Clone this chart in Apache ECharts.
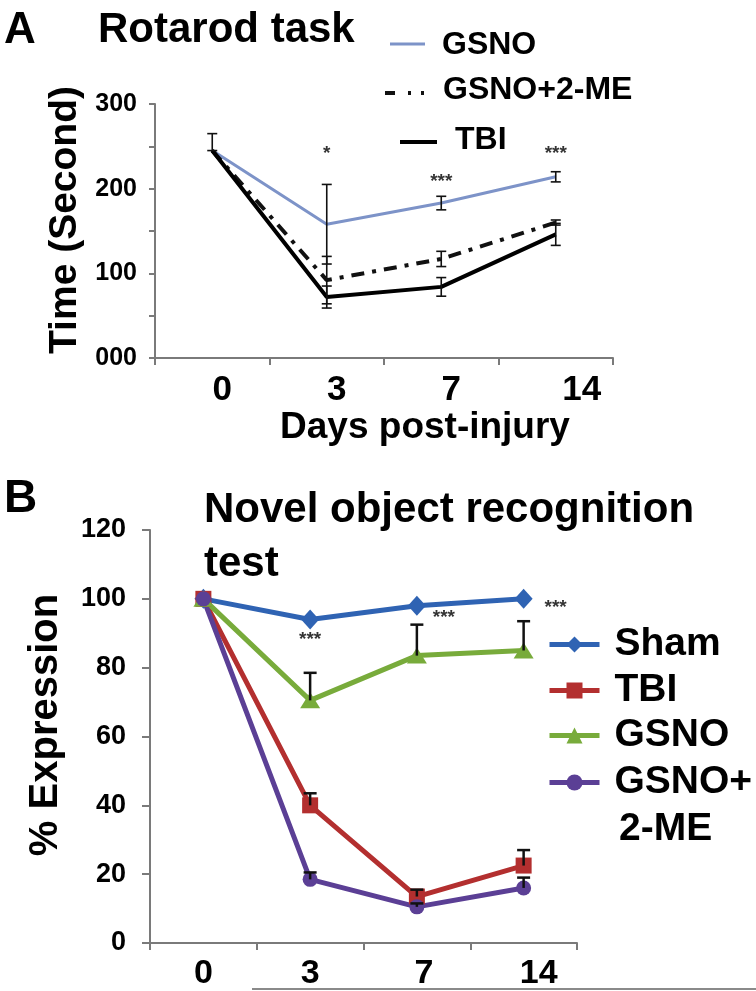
<!DOCTYPE html>
<html><head><meta charset="utf-8">
<script src="https://cdn.jsdelivr.net/npm/echarts@6.0.0/dist/echarts.min.js"></script>
<style>html,body{margin:0;padding:0;background:#fff}#c{width:756px;height:991px}</style>
</head><body><div id="c"></div>
<script>
// ---------- Panel A: Rotarod task ----------
const daysA = ['0', '3', '7', '14'];
const gsnoA = [245, 158, 183, 214];
const gsno2meA = [245, 92, 117, 160];
const tbiA = [245, 72, 84, 146];
const gsnoErrUpA = [20, 47, 8, 6];
const gsnoErrDnA = [0, 47, 8, 6];
const gsno2meErrA = [0, 28, 9, 3];
const tbiErrA = [0, 13, 11, 13];
const sigA = ['', '*', '***', '***'];
const sigYA = [0, 241, 208, 241];
const yTicksA = [0, 100, 200, 300];

// ---------- Panel B: Novel object recognition ----------
const daysB = ['0', '3', '7', '14'];
const shamB = [100, 94, 98, 100];
const tbiB = [100, 40, 13.5, 22.5];
const gsnoB = [100, 70.5, 83.5, 85];
const gsno2meB = [100, 18.5, 10.5, 16];
const tbiErrB = [0, 3.5, 2, 4.5];
const gsnoErrB = [0, 8, 9, 8.5];
const gsno2meErrB = [0, 2, 1, 3];
const sigB = ['', '***', '***', '***'];
const sigYB = [0, 88, 94.5, 97.5];

const FONT = '"Liberation Sans", Arial, Helvetica, sans-serif';
const AXIS_COLOR = '#7a7a7a';
const C = { sham: '#2f63b3', tbi: '#b32f2f', gsno: '#78ab3b', gsno2me: '#5b3f95', gsnoA: '#7d93c8' };

function errItems(vals, up, dn) {
  const out = [];
  vals.forEach((v, i) => { if (up[i] || dn[i]) out.push([i, v - dn[i], v + up[i]]); });
  return out;
}
function errorRenderer(twoSided, capHalf, lw) {
  return function (params, api) {
    const x = api.value(0);
    const lo = api.coord([x, api.value(1)]);
    const hi = api.coord([x, api.value(2)]);
    const st = { stroke: '#111', lineWidth: lw };
    const ch = [
      { type: 'line', shape: { x1: lo[0], y1: lo[1], x2: hi[0], y2: hi[1] }, style: st },
      { type: 'line', shape: { x1: hi[0] - capHalf, y1: hi[1], x2: hi[0] + capHalf, y2: hi[1] }, style: st }
    ];
    if (twoSided) ch.push({ type: 'line', shape: { x1: lo[0] - capHalf, y1: lo[1], x2: lo[0] + capHalf, y2: lo[1] }, style: st });
    return { type: 'group', children: ch };
  };
}
function sigItems(sig, ys, offsets) {
  const out = [];
  sig.forEach((s, i) => {
    if (s) out.push({ value: [i, ys[i]], label: { formatter: s, offset: offsets ? offsets[i] : [0, 0] } });
  });
  return out;
}

const chart = echarts.init(document.getElementById('c'));
const bold = { fontFamily: FONT, fontWeight: 'bold', color: '#000' };

const option = {
  animation: false,
  backgroundColor: '#fff',
  grid: [
    { left: 155, top: 104, width: 458, height: 254 },
    { left: 150, top: 530, width: 427, height: 413 }
  ],
  xAxis: [
    {
      gridIndex: 0, type: 'category', data: daysA, boundaryGap: true,
      axisLine: { lineStyle: { color: AXIS_COLOR, width: 2 } },
      axisTick: { show: true, length: 7, lineStyle: { color: AXIS_COLOR, width: 2 } },
      axisLabel: {
        ...bold, fontSize: 35, margin: 15, interval: 0, hideOverlap: false,
        formatter: v => v === '14' ? '{w|' + v + '}' : '{n|' + v + '}',
        rich: {
          n: { ...bold, fontSize: 35, padding: [0, 0, 0, 20] },
          w: { ...bold, fontSize: 35, padding: [0, 0, 0, 52] }
        }
      },
      name: 'Days post-injury', nameLocation: 'middle', nameGap: 40,
      nameTextStyle: { ...bold, fontSize: 37, padding: [0, 0, 0, 82] }
    },
    {
      gridIndex: 1, type: 'category', data: daysB, boundaryGap: true,
      axisLine: { lineStyle: { color: AXIS_COLOR, width: 2 } },
      axisTick: { show: true, length: 7, lineStyle: { color: AXIS_COLOR, width: 2 } },
      axisLabel: {
        ...bold, fontSize: 34, margin: 14, interval: 0, hideOverlap: false,
        formatter: v => v === '14' ? '{w|' + v + '}' : (v === '7' ? '{s|' + v + '}' : '{n|' + v + '}'),
        rich: {
          n: { ...bold, fontSize: 34 },
          s: { ...bold, fontSize: 34, padding: [0, 0, 0, 14] },
          w: { ...bold, fontSize: 34, padding: [0, 0, 0, 30] }
        }
      }
    }
  ],
  yAxis: [
    {
      gridIndex: 0, type: 'value', min: 0, max: 300, interval: 50,
      splitLine: { show: false },
      axisLine: { show: true, lineStyle: { color: AXIS_COLOR, width: 2 } },
      axisTick: { show: true, length: 6, lineStyle: { color: AXIS_COLOR, width: 2 } },
      axisLabel: {
        ...bold, fontSize: 25, margin: 18,
        formatter: v => yTicksA.indexOf(v) >= 0 ? String(v).padStart(3, '0') : ''
      },
      name: 'Time (Second)', nameLocation: 'middle', nameRotate: 90, nameGap: 68,
      nameTextStyle: { ...bold, fontSize: 39, padding: [0, 0, 0, 22] }
    },
    {
      gridIndex: 1, type: 'value', min: 0, max: 120, interval: 20,
      splitLine: { show: false },
      axisLine: { show: true, lineStyle: { color: AXIS_COLOR, width: 2 } },
      axisTick: { show: true, length: 8, lineStyle: { color: AXIS_COLOR, width: 2 } },
      axisLabel: { ...bold, fontSize: 27, margin: 24 },
      name: '% Expression', nameLocation: 'middle', nameRotate: 90, nameGap: 84,
      nameTextStyle: { ...bold, fontSize: 40, padding: [0, 0, 0, 23] }
    }
  ],
  legend: [
    { name: 'Sham', top: 625 },
    { name: 'TBI', top: 671 },
    { name: 'GSNO', top: 716 },
    { name: 'GSNO+2-ME', top: 763 }
  ].map(l => ({
    data: [l.name], left: 547, top: l.top, padding: 0, selectedMode: false,
    itemWidth: 50, itemHeight: 20,
    lineStyle: { width: 5 },
    formatter: n => n === 'GSNO+2-ME' ? 'GSNO+' : n,
    textStyle: { ...bold, fontSize: 39, padding: [0, 0, 14, 10] }
  })),
  series: [
    // Panel B (listed first so its legends take these styles)
    { name: 'Sham', type: 'line', xAxisIndex: 1, yAxisIndex: 1, data: shamB, symbol: 'diamond', symbolSize: [18, 20],
      lineStyle: { color: C.sham, width: 5 }, itemStyle: { color: C.sham } },
    { name: 'TBI', type: 'line', xAxisIndex: 1, yAxisIndex: 1, data: tbiB, symbol: 'rect', symbolSize: 16,
      lineStyle: { color: C.tbi, width: 5 }, itemStyle: { color: C.tbi } },
    { name: 'GSNO', type: 'line', xAxisIndex: 1, yAxisIndex: 1, data: gsnoB, symbol: 'triangle', symbolSize: [20, 16],
      lineStyle: { color: C.gsno, width: 5 }, itemStyle: { color: C.gsno } },
    { name: 'GSNO+2-ME', type: 'line', xAxisIndex: 1, yAxisIndex: 1, data: gsno2meB, symbol: 'circle', symbolSize: 15,
      lineStyle: { color: C.gsno2me, width: 5 }, itemStyle: { color: C.gsno2me } },
    { type: 'custom', xAxisIndex: 1, yAxisIndex: 1, z: 5,
      renderItem: errorRenderer(false, 6.5, 2.5),
      encode: { x: 0, y: [1, 2] },
      data: [].concat(
        errItems(tbiB, tbiErrB, tbiB.map(() => 0)),
        errItems(gsnoB, gsnoErrB, gsnoB.map(() => 0)),
        errItems(gsno2meB, gsno2meErrB, gsno2meB.map(() => 0))
      ) },
    { type: 'scatter', xAxisIndex: 1, yAxisIndex: 1, symbolSize: 0, silent: true,
      label: { show: true, position: 'inside', ...bold, fontSize: 19 },
      data: sigItems(sigB, sigYB, [[0, 0], [0, 0], [27, 0], [32, 0]]) },

    // Panel A
    { name: 'GSNO', type: 'line', xAxisIndex: 0, yAxisIndex: 0, data: gsnoA, symbol: 'none',
      lineStyle: { color: C.gsnoA, width: 3 } },
    { name: 'GSNO+2-ME', type: 'line', xAxisIndex: 0, yAxisIndex: 0, data: gsno2meA, symbol: 'none',
      lineStyle: { color: '#111', width: 4, type: [13, 8, 4, 8] } },
    { name: 'TBI', type: 'line', xAxisIndex: 0, yAxisIndex: 0, data: tbiA, symbol: 'none',
      lineStyle: { color: '#000', width: 4 } },
    { type: 'custom', xAxisIndex: 0, yAxisIndex: 0, z: 5,
      renderItem: errorRenderer(true, 5, 1.6),
      encode: { x: 0, y: [1, 2] },
      data: [].concat(
        errItems(gsnoA, gsnoErrUpA, gsnoErrDnA),
        errItems(gsno2meA, gsno2meErrA, gsno2meErrA),
        errItems(tbiA, tbiErrA, tbiErrA)
      ) },
    { type: 'scatter', xAxisIndex: 0, yAxisIndex: 0, symbolSize: 0, silent: true,
      label: { show: true, position: 'inside', ...bold, fontSize: 19 },
      data: sigItems(sigA, sigYA) }
  ],
  graphic: [
    { type: 'text', left: 4, top: 9, style: { text: 'A', font: 'bold 44px ' + FONT, fill: '#000' } },
    { type: 'text', left: 98, top: 9, style: { text: 'Rotarod task', font: 'bold 42px ' + FONT, fill: '#000' } },
    { type: 'text', left: 4, top: 476, style: { text: 'B', font: 'bold 46px ' + FONT, fill: '#000' } },
    { type: 'text', left: 204, top: 483, style: { text: 'Novel object recognition\ntest', font: 'bold 42px ' + FONT, fill: '#000', lineHeight: 54 } },
    // Panel A legend
    { type: 'line', shape: { x1: 390, y1: 44, x2: 425, y2: 44 }, style: { stroke: C.gsnoA, lineWidth: 3 } },
    { type: 'text', left: 442, top: 29, style: { text: 'GSNO', font: 'bold 32px ' + FONT, fill: '#000' } },
    { type: 'line', shape: { x1: 385, y1: 93, x2: 427, y2: 93 }, style: { stroke: '#111', lineWidth: 4, lineDash: [10, 13, 3, 10, 3, 100] } },
    { type: 'text', left: 443, top: 74, style: { text: 'GSNO+2-ME', font: 'bold 32px ' + FONT, fill: '#000' } },
    { type: 'line', shape: { x1: 400, y1: 142, x2: 437, y2: 142 }, style: { stroke: '#000', lineWidth: 4 } },
    { type: 'text', left: 455, top: 124, style: { text: 'TBI', font: 'bold 32px ' + FONT, fill: '#000' } },
    // continuation of the last legend entry in panel B
    { type: 'text', left: 619, top: 810, style: { text: '2-ME', font: 'bold 39px ' + FONT, fill: '#000' } },
    // thin rule along the bottom edge of the figure
    { type: 'line', shape: { x1: 252, y1: 989, x2: 756, y2: 989 }, style: { stroke: '#8a8a8a', lineWidth: 2 } }
  ]
};
chart.setOption(option);
</script>
</body></html>
